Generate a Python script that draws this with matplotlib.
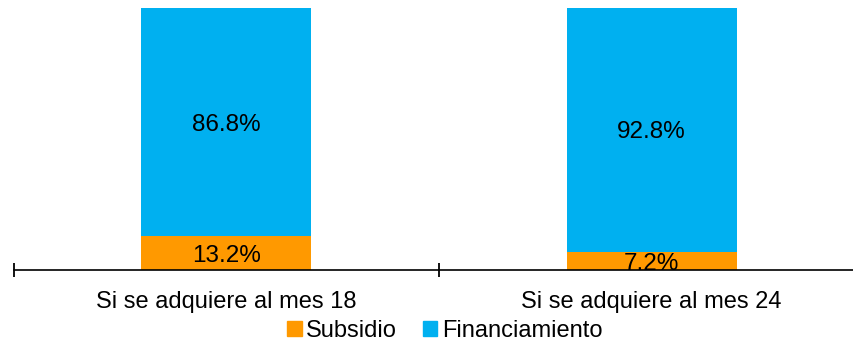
import matplotlib
matplotlib.use("Agg")
import matplotlib.pyplot as plt
from matplotlib.patches import Patch

plt.rcParams["font.family"] = ["Liberation Sans", "DejaVu Sans"]

categorias = ["Si se adquiere al mes 18", "Si se adquiere al mes 24"]
subsidio = [13.2, 7.2]
financiamiento = [86.8, 92.8]

C_SUB = "#FF9900"
C_FIN = "#00B0F0"
FS = 17.5

fig = plt.figure(figsize=(8.54, 3.45), dpi=100)
ax = fig.add_axes([14 / 854, 0.216, 850 / 854, 0.761])

pos = [i + 0.5 for i in range(len(categorias))]
ax.bar(pos, subsidio, width=0.4, color=C_SUB, zorder=1)
ax.bar(pos, financiamiento, width=0.4, bottom=subsidio, color=C_FIN, zorder=1)

for x, s, f in zip(pos, subsidio, financiamiento):
    ax.text(x, s / 2 - 1.0, f"{s:.1f}%", ha="center", va="center", fontsize=FS, zorder=2)
    ax.text(x, s + f / 2 - 1.0, f"{f:.1f}%", ha="center", va="center", fontsize=FS, zorder=2)

ax.set_xlim(0, len(categorias))
ax.set_ylim(0, 100)
ax.set_yticks([])
for s in ["top", "right", "left"]:
    ax.spines[s].set_visible(False)
ax.spines["bottom"].set_linewidth(1.2)
ax.spines["bottom"].set_zorder(3)

# separadores de categoría como ticks mayores, etiquetas en ticks menores
ax.set_xticks(range(len(categorias) + 1))
ax.set_xticklabels([])
ax.tick_params(axis="x", which="major", direction="inout", length=10, width=1.3)
ax.set_xticks(pos, minor=True)
ax.set_xticklabels(categorias, minor=True, fontsize=17)
ax.tick_params(axis="x", which="minor", length=0, pad=15)

handles = [Patch(color=C_SUB, label="Subsidio"), Patch(color=C_FIN, label="Financiamiento")]
fig.legend(handles=handles, loc="center", bbox_to_anchor=(445 / 854, 1 - 331 / 345), ncol=2,
           frameon=False, fontsize=17, handlelength=0.6, handleheight=0.6,
           handletextpad=0.2, columnspacing=1.1, borderaxespad=0)

fig.savefig("out.png", dpi=100)
